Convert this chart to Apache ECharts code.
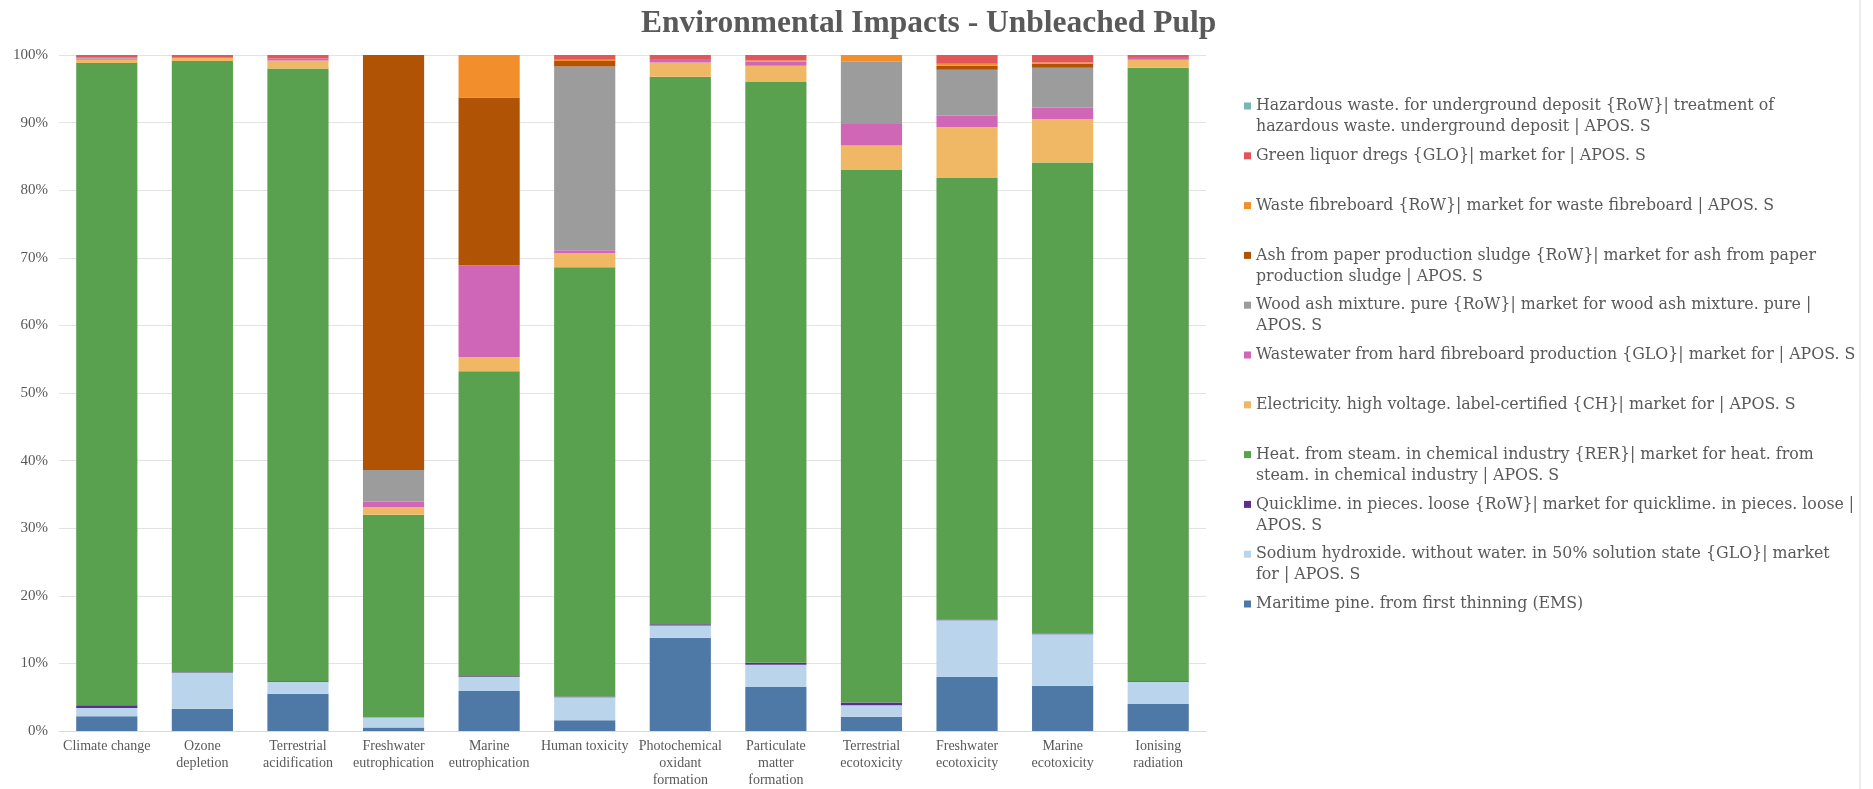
<!DOCTYPE html>
<html>
<head>
<meta charset="utf-8">
<script src="https://cdn.jsdelivr.net/npm/echarts@6/dist/echarts.min.js"></script>
<style>
html,body{margin:0;padding:0;background:#fff;}
#chart{width:1873px;height:789px;}
</style>
</head>
<body>
<div id="chart"></div>
<script>
// Categories (x axis)
var categories = ['Climate change', 'Ozone depletion', 'Terrestrial acidification', 'Freshwater eutrophication',
  'Marine eutrophication', 'Human toxicity', 'Photochemical oxidant formation', 'Particulate matter formation',
  'Terrestrial ecotoxicity', 'Freshwater ecotoxicity', 'Marine ecotoxicity', 'Ionising radiation'];
var categoryLabels = ['Climate change', 'Ozone\ndepletion', 'Terrestrial\nacidification', 'Freshwater\neutrophication',
  'Marine\neutrophication', 'Human toxicity', 'Photochemical\noxidant\nformation', 'Particulate\nmatter\nformation',
  'Terrestrial\necotoxicity', 'Freshwater\necotoxicity', 'Marine\necotoxicity', 'Ionising\nradiation'];

// Y tick labels
var yTicks = ['0%', '10%', '20%', '30%', '40%', '50%', '60%', '70%', '80%', '90%', '100%'];

// Series values (% share), stacked bottom -> top
var maritimePine   = [2.2, 3.3, 5.5, 0.5, 5.9, 1.6, 13.8, 6.5, 2.1, 8.0, 6.7, 4.0];
var sodiumHydrox   = [1.2, 5.3, 1.8, 1.5, 2.1, 3.4, 1.8, 3.3, 1.7, 8.4, 7.6, 3.3];
var quicklime      = [0.4, 0.1, 0.1, 0.0, 0.1, 0.1, 0.2, 0.3, 0.4, 0.1, 0.1, 0.1];
var heatSteam      = [95.0, 90.4, 90.6, 30.0, 45.1, 63.5, 81.0, 85.9, 78.8, 65.3, 69.7, 90.7];
var electricity    = [0.5, 0.5, 1.2, 1.1, 2.1, 2.1, 2.1, 2.4, 3.6, 7.5, 6.4, 1.2];
var wastewater     = [0.2, 0.0, 0.3, 0.8, 13.6, 0.4, 0.5, 0.6, 3.2, 1.7, 1.7, 0.4];
var woodAsh        = [0.1, 0.0, 0.0, 4.7, 0.0, 27.2, 0.0, 0.0, 9.2, 6.8, 5.9, 0.0];
var ashSludge      = [0.0, 0.0, 0.0, 61.4, 24.8, 0.8, 0.0, 0.0, 0.0, 0.6, 0.6, 0.0];
var wasteFibre     = [0.0, 0.0, 0.0, 0.0, 6.3, 0.2, 0.0, 0.2, 1.0, 0.3, 0.2, 0.0];
var greenLiquor    = [0.4, 0.4, 0.5, 0.0, 0.0, 0.7, 0.6, 0.8, 0.0, 1.3, 1.1, 0.3];
var hazardousWaste = [0.0, 0.0, 0.0, 0.0, 0.0, 0.0, 0.0, 0.0, 0.0, 0.0, 0.0, 0.0];

var seriesNames = [
  'Maritime pine. from first thinning (EMS)',
  'Sodium hydroxide. without water. in 50% solution state {GLO}| market for | APOS. S',
  'Quicklime. in pieces. loose {RoW}| market for quicklime. in pieces. loose | APOS. S',
  'Heat. from steam. in chemical industry {RER}| market for heat. from steam. in chemical industry | APOS. S',
  'Electricity. high voltage. label-certified {CH}| market for | APOS. S',
  'Wastewater from hard fibreboard production {GLO}| market for | APOS. S',
  'Wood ash mixture. pure {RoW}| market for wood ash mixture. pure | APOS. S',
  'Ash from paper production sludge {RoW}| market for ash from paper production sludge | APOS. S',
  'Waste fibreboard {RoW}| market for waste fibreboard | APOS. S',
  'Green liquor dregs {GLO}| market for | APOS. S',
  'Hazardous waste. for underground deposit {RoW}| treatment of hazardous waste. underground deposit | APOS. S'
];
var legendLabels = [
  'Maritime pine. from first thinning (EMS)',
  'Sodium hydroxide. without water. in 50% solution state {GLO}| market\nfor | APOS. S',
  'Quicklime. in pieces. loose {RoW}| market for quicklime. in pieces. loose |\nAPOS. S',
  'Heat. from steam. in chemical industry {RER}| market for heat. from\nsteam. in chemical industry | APOS. S',
  'Electricity. high voltage. label-certified {CH}| market for | APOS. S',
  'Wastewater from hard fibreboard production {GLO}| market for | APOS. S',
  'Wood ash mixture. pure {RoW}| market for wood ash mixture. pure |\nAPOS. S',
  'Ash from paper production sludge {RoW}| market for ash from paper\nproduction sludge | APOS. S',
  'Waste fibreboard {RoW}| market for waste fibreboard | APOS. S',
  'Green liquor dregs {GLO}| market for | APOS. S',
  'Hazardous waste. for underground deposit {RoW}| treatment of\nhazardous waste. underground deposit | APOS. S'
];
var seriesValues = [maritimePine, sodiumHydrox, quicklime, heatSteam, electricity, wastewater,
  woodAsh, ashSludge, wasteFibre, greenLiquor, hazardousWaste];
var seriesColors = ['#4E79A7', '#BAD4EC', '#5E2D91', '#59A14F', '#F0B865', '#D066B6',
  '#9D9C9D', '#B05304', '#F28E2B', '#E15759', '#76B7B2'];

var serif = '"Liberation Serif", "DejaVu Serif", serif';
var legendFont = '"DejaVu Serif", "Liberation Serif", serif';
var textColor = '#595959';

var series = seriesNames.map(function (n, i) {
  return {
    name: n, type: 'bar', stack: 'total', data: seriesValues[i],
    itemStyle: { color: seriesColors[i] },
    barCategoryGap: '36%'
  };
});

// Legend, top to bottom (reverse of stacking order); one legend per entry so the
// pitch is constant and the square sits beside the first line of text.
var legendOrder = [10, 9, 8, 7, 6, 5, 4, 3, 2, 1, 0];
var firstLineY = 106, pitch = 49.8, lineH = 21;
var legends = legendOrder.map(function (si, k) {
  var label = legendLabels[si];
  var twoLines = label.indexOf('\n') >= 0;
  var y = firstLineY + pitch * k;
  // for two-line labels a blank leading line keeps the first text line centred on the square
  var shown = twoLines ? ' \n' + label : label;
  return {
    orient: 'vertical', left: 1244, top: twoLines ? y - 1.5 * lineH : y - lineH / 2,
    padding: 0, itemWidth: 7, itemHeight: 7, itemGap: 0, icon: 'rect',
    data: [seriesNames[si]],
    formatter: function () { return shown; },
    textStyle: { fontFamily: legendFont, fontSize: 15.8, color: textColor, lineHeight: lineH }
  };
});

var chart = echarts.init(document.getElementById('chart'));
chart.setOption({
  animation: false,
  backgroundColor: '#fff',
  title: {
    text: 'Environmental Impacts - Unbleached Pulp',
    left: 636, top: 3,
    textStyle: { fontFamily: serif, fontWeight: 'bold', fontSize: 31.5, color: textColor }
  },
  legend: legends,
  grid: { left: 59, right: 667, top: 55, bottom: 53, containLabel: false },
  xAxis: {
    type: 'category', data: categories,
    axisLine: { lineStyle: { color: '#d9d9d9' } },
    axisTick: { show: false },
    axisLabel: {
      interval: 0, fontFamily: serif, fontSize: 14, color: textColor, lineHeight: 17, margin: 7,
      formatter: function (v, idx) { return categoryLabels[idx]; }
    }
  },
  yAxis: {
    type: 'value', min: 0, max: 100, interval: 10,
    axisLine: { show: false }, axisTick: { show: false },
    splitLine: { lineStyle: { color: '#e3e3e3' } },
    axisLabel: {
      fontFamily: serif, fontSize: 15, color: textColor, margin: 11,
      formatter: function (v) { return yTicks[Math.round(v / 10)]; }
    }
  },
  graphic: [{
    type: 'line', shape: { x1: 1860, y1: 0, x2: 1860, y2: 789 },
    style: { stroke: '#d9d9d9', lineWidth: 1 }, silent: true
  }],
  series: series
});
</script>
</body>
</html>
